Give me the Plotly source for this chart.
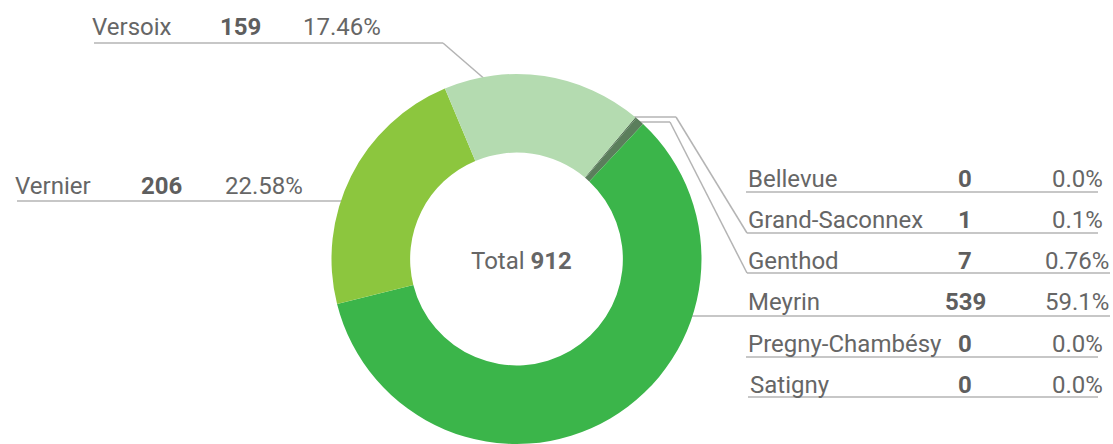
import math
import plotly.graph_objects as go

# ---- data ----
communes = ["Bellevue", "Grand-Saconnex", "Genthod", "Meyrin",
            "Pregny-Chambésy", "Satigny", "Vernier", "Versoix"]
counts = [0, 1, 7, 539, 0, 0, 206, 159]
pct_labels = ["0.0%", "0.1%", "0.76%", "59.1%", "0.0%", "0.0%", "22.58%", "17.46%"]
total = 912

colors = ["#4f6f50", "#4f6f50", "#5b7e5c", "#3bb54a",
          "#2e8b3a", "#6aa84f", "#8cc63e", "#b4dbb0"]

W, H = 1113, 444
FONT = "Roboto"
FS = 24
TXT = "#666666"
VAL = "#5e5e5e"
LINE = "#b4b4b4"

def px(x):
    return x / W

def py(y):
    return 1 - y / H

# donut geometry (pixels)
CX, CY, R = 516.5, 259, 185
ROT = 40

fig = go.Figure(go.Pie(
    labels=communes, values=counts, sort=False, direction="clockwise",
    rotation=ROT, hole=0.575, textinfo="none", hoverinfo="label+value+percent",
    marker=dict(colors=colors, line=dict(width=0)),
    domain=dict(x=[px(CX - R), px(CX + R)], y=[py(CY + R), py(CY - R)]),
    showlegend=False,
))

def pt(angle_deg, r=R):
    a = math.radians(angle_deg)
    return CX + r * math.sin(a), CY - r * math.cos(a)

shapes = []
def seg(points):
    for (x0, y0), (x1, y1) in zip(points[:-1], points[1:]):
        shapes.append(dict(type="line", xref="paper", yref="paper",
                           x0=px(x0), y0=py(y0), x1=px(x1), y1=py(y1),
                           line=dict(color=LINE, width=1.5), layer="below"))

# slice boundary angles from data
cum = [ROT]
for v in counts:
    cum.append(cum[-1] + 360 * v / total)

# Versoix leader
sx, sy = pt(cum[7] + 0.21 * (cum[8] - cum[7]), R - 4)
seg([(94, 43), (443, 43), (sx, sy)])
# Vernier leader
seg([(17, 201), (360, 201)])
# Grand-Saconnex leader
gx, gy = pt(cum[1], R - 2)
seg([(gx, 117), (676, 117), (747, 233), (1098, 233)])
# Genthod leader
hx, hy = pt(cum[2] + 0.7 * (cum[3] - cum[2]), R - 2)
seg([(hx, 122), (670, 122), (747, 273), (1110, 273)])
# Meyrin leader
seg([(670, 316), (1110, 316)])
# other underlines
seg([(746, 192), (1098, 192)])
seg([(746, 357), (1098, 357)])
seg([(748, 397), (1098, 397)])

ann = []
def text(x, y, s, anchor="left", bold=False, color=TXT):
    ann.append(dict(xref="paper", yref="paper", x=px(x), y=py(y),
                    xanchor=anchor, yanchor="middle", showarrow=False,
                    text=f"<b>{s}</b>" if bold else s,
                    font=dict(family=FONT, size=FS, color=VAL if bold else color)))

# left labels
text(90, 27, communes[7])
text(240, 27, str(counts[7]), "center", True)
text(342, 27, pct_labels[7], "center")
text(13, 186, communes[6])
text(161, 186, str(counts[6]), "center", True)
text(264, 186, pct_labels[6], "center")

# right table
rows_y = [179, 220, 261, 302, 344, 385]
for i in range(6):
    text(746 if i < 5 else 748, rows_y[i], communes[i])
    text(965, rows_y[i], str(counts[i]), "center", True)
    text(1077, rows_y[i], pct_labels[i], "center")

# center total
ann.append(dict(xref="paper", yref="paper", x=px(521), y=py(261),
                xanchor="center", yanchor="middle", showarrow=False,
                text=f"Total <b>{total}</b>",
                font=dict(family=FONT, size=FS, color=TXT)))

fig.update_layout(
    width=W, height=H, margin=dict(l=0, r=0, t=0, b=0),
    paper_bgcolor="white", plot_bgcolor="white",
    shapes=shapes, annotations=ann,
)

fig.write_html("out.html")
